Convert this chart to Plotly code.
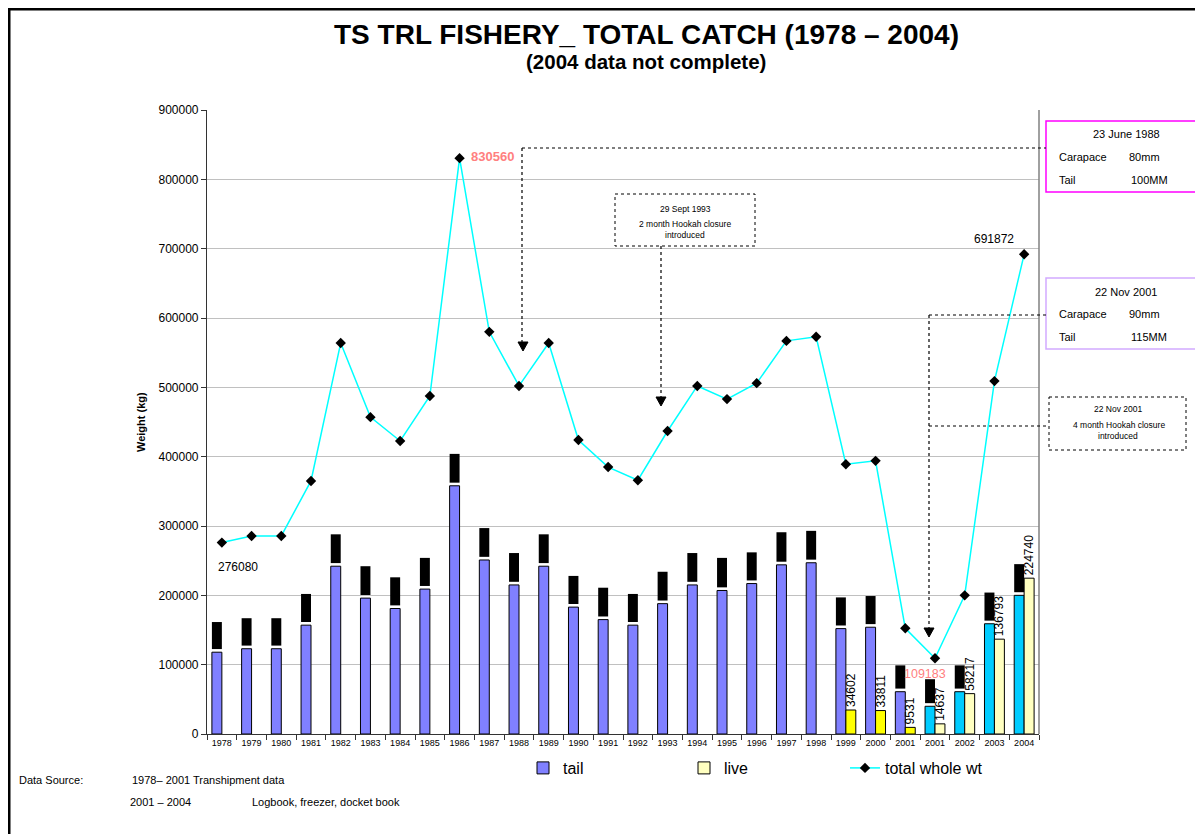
import plotly.graph_objects as go

# ---------------- data ----------------
year_labels = ['1978', '1979', '1980', '1981', '1982', '1983', '1984', '1985', '1986', '1987',
               '1988', '1989', '1990', '1991', '1992', '1993', '1994', '1995', '1996', '1997',
               '1998', '1999', '2000', '2001', '2001', '2002', '2003', '2004']
tail = [118000, 123000, 123000, 157000, 242000, 196000, 181000, 209000, 358000, 251000,
        215000, 242000, 183000, 165000, 157000, 188000, 215000, 207000, 217000, 244000,
        247000, 152000, 154000, 61000, 40000, 61000, 159000, 200000]
upper_top = [161500, 167000, 167000, 202000, 288000, 242000, 226000, 254000, 404000, 297000,
             261000, 288000, 228000, 211000, 202000, 234000, 261000, 254000, 262000, 291000,
             293000, 197000, 199000, 99000, 79000, 99000, 204000, 245000]
live = [None] * 21 + [34602, 33811, 9531, 14637, 58217, 136793, 224740]
total_whole = [276080, 285600, 285600, 365000, 564000, 457000, 422600, 487500, 830560, 580000,
               502000, 564000, 424000, 385000, 366000, 437000, 502000, 483000, 506000, 567000,
               573000, 389000, 394000, 152500, 109183, 200000, 509000, 691872]

# ---------------- styling helpers ----------------
W, H = 1203, 834
OFF = 8                      # page margin of the html body
L, R, T, B = 207, 1039, 110, 734   # plot area in screen pixels
FONT = "Liberation Sans, Arial, sans-serif"
GAP = 4500

def px(x):
    return (x - L) / (R - L)

def py(y):
    return (B - y) / (B - T)

n = len(year_labels)
xs = list(range(n))
tail_colors = ['#8080FF'] * 24 + ['#00CCFF'] * 4
live_colors = ['#FFFFC0'] * 21 + ['#FFFF00'] * 3 + ['#FFFFC0'] * 4

fig = go.Figure()
fig.add_trace(go.Bar(
    x=xs, y=tail, name='tail', offsetgroup='a',
    marker=dict(color=tail_colors, line=dict(color='black', width=1)),
))
fig.add_trace(go.Bar(
    x=xs, y=live, name='live', offsetgroup='b',
    marker=dict(color=live_colors, line=dict(color='black', width=1)),
    text=[str(v) if v else '' for v in live], textposition='outside', textangle=-90,
    constraintext='none', textfont=dict(size=12, color='black', family=FONT),
    cliponaxis=False,
))
fig.add_trace(go.Bar(
    x=xs, y=[u - t - GAP for u, t in zip(upper_top, tail)], base=[t + GAP for t in tail],
    offsetgroup='a', showlegend=False, name='',
    marker=dict(color='black', line=dict(width=0)), hoverinfo='skip',
))
fig.add_trace(go.Scatter(
    x=xs, y=total_whole, name='total whole wt', mode='lines+markers',
    line=dict(color='#00FFFF', width=1.5),
    marker=dict(symbol='diamond', size=8, color='black'),
))

shapes = []
# outer frame
shapes.append(dict(type='rect', xref='paper', yref='paper', x0=px(OFF + 1), x1=px(1225),
                   y0=py(OFF + 1), y1=py(860), line=dict(color='black', width=3)))
# plot area right border
shapes.append(dict(type='line', xref='paper', yref='paper', x0=1, x1=1, y0=0, y1=1,
                   line=dict(color='#808080', width=1.5)))
# boxes
shapes.append(dict(type='rect', xref='paper', yref='paper', x0=px(1046), x1=px(1215),
                   y0=py(121), y1=py(192), line=dict(color='#FF00FF', width=1.5)))
shapes.append(dict(type='rect', xref='paper', yref='paper', x0=px(1046), x1=px(1215),
                   y0=py(278), y1=py(349), line=dict(color='#D2AAFF', width=1.5)))
shapes.append(dict(type='rect', xref='paper', yref='paper', x0=px(1049), x1=px(1186),
                   y0=py(397), y1=py(450), line=dict(color='black', width=1, dash='dot')))
shapes.append(dict(type='rect', xref='paper', yref='paper', x0=px(615), x1=px(755),
                   y0=py(194), y1=py(246), line=dict(color='black', width=1, dash='dot')))
# dotted leader lines
for (x0, y0, x1, y1) in [(522, 148, 1046, 148), (522, 148, 522, 343),
                         (661, 246, 661, 398),
                         (929, 315, 1046, 315), (929, 315, 929, 629), (929, 426, 1049, 426)]:
    shapes.append(dict(type='line', xref='paper', yref='paper', x0=px(x0), x1=px(x1),
                       y0=py(y0), y1=py(y1), line=dict(color='black', width=1.2, dash='dot')))
# arrow heads
for (ax, tip) in [(523, 351), (661, 406), (929, 637)]:
    path = 'M {} {} L {} {} L {} {} Z'.format(px(ax - 5), py(tip - 9), px(ax + 5), py(tip - 9),
                                             px(ax), py(tip))
    shapes.append(dict(type='path', xref='paper', yref='paper', path=path,
                       fillcolor='black', line=dict(color='black', width=1)))

ann = []
def text(x, y, s, size=11, anchor='center', color='black', bold=False, angle=0):
    ann.append(dict(xref='paper', yref='paper', x=px(x), y=py(y), text=('<b>%s</b>' % s) if bold else s,
                    showarrow=False, xanchor=anchor, yanchor='middle', textangle=angle,
                    font=dict(size=size, color=color, family=FONT)))

text(646, 34, 'TS TRL FISHERY_ TOTAL CATCH (1978 – 2004)', size=28, bold=True)
text(646, 61, '(2004 data not complete)', size=20.5, bold=True)
text(141, 422, 'Weight (kg)', size=11, bold=True, angle=-90)

text(492, 157, '830560', size=13, color='#FF8080', bold=True)
text(238, 567, '276080', size=12)
text(994, 239, '691872', size=12)
text(925, 674, '109183', size=12.5, color='#FF8080')

text(1126, 134, '23 June 1988', size=11)
text(1057, 157, 'Carapace', size=11, anchor='left')
text(1127, 157, '80mm', size=11, anchor='left')
text(1057, 180, 'Tail', size=11, anchor='left')
text(1129, 180, '100MM', size=11, anchor='left')

text(1126, 292, '22 Nov 2001', size=11)
text(1057, 314, 'Carapace', size=11, anchor='left')
text(1127, 314, '90mm', size=11, anchor='left')
text(1057, 337, 'Tail', size=11, anchor='left')
text(1129, 337, '115MM', size=11, anchor='left')

text(1118, 409, '22 Nov 2001', size=8.5)
text(1119, 425, '4 month Hookah closure', size=8.5)
text(1118, 436, 'introduced', size=8.5)

text(685, 209, '29 Sept 1993', size=8.5)
text(685, 224, '2 month Hookah closure', size=8.5)
text(685, 235, 'introduced', size=8.5)

text(17, 780, 'Data Source:', size=11, anchor='left')
text(130, 780, '1978– 2001 Transhipment data', size=11, anchor='left')
text(128, 802, '2001 – 2004', size=11, anchor='left')
text(250, 802, 'Logbook, freezer, docket book', size=11, anchor='left')

fig.update_layout(
    width=W, height=H,
    margin=dict(l=L - OFF, r=W - (R - OFF), t=T - OFF, b=H - (B - OFF), pad=0),
    paper_bgcolor='white', plot_bgcolor='white',
    font=dict(family=FONT, color='black'),
    barmode='group', bargap=0.33, bargroupgap=0,
    showlegend=True,
    legend=dict(orientation='h', x=px(523), xanchor='left', y=py(768), yanchor='middle',
                font=dict(size=16, family=FONT), entrywidth=116, entrywidthmode='pixels',
                bgcolor='rgba(0,0,0,0)', traceorder='normal'),
    shapes=shapes, annotations=ann,
    xaxis=dict(range=[-0.5, n - 0.5], tickmode='array', tickvals=xs, ticktext=year_labels,
               ticks='', tickfont=dict(size=9, family=FONT), showgrid=False, zeroline=False,
               showline=True, linecolor='#333333', linewidth=1.2,
               minor=dict(tickmode='array', tickvals=[i - 0.5 for i in range(n + 1)],
                          ticks='outside', ticklen=5, tickcolor='#333333', showgrid=False)),
    yaxis=dict(range=[0, 900000], tickmode='linear', tick0=0, dtick=100000,
               tickformat='d', tickfont=dict(size=12, family=FONT),
               ticks='outside', ticklen=5, tickcolor='#333333',
               showgrid=True, gridcolor='#C0C0C0', gridwidth=1, zeroline=False,
               showline=True, linecolor='#333333', linewidth=1.2),
)

fig.write_html('out.html')
